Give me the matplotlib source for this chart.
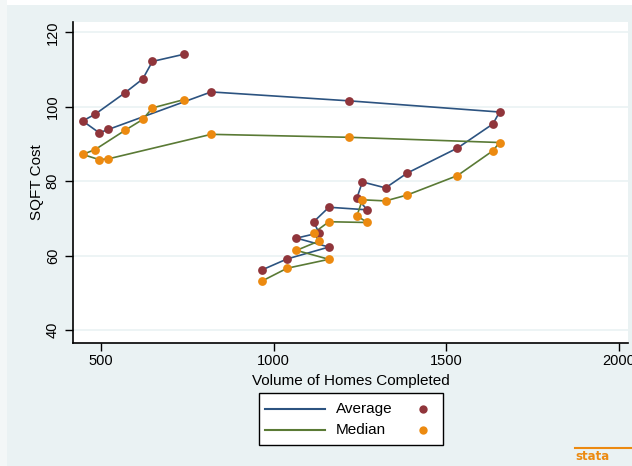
import matplotlib
matplotlib.use("Agg")
from matplotlib import pyplot as plt
from matplotlib.lines import Line2D
from matplotlib.patches import Rectangle

plt.rcParams['font.family'] = ['Liberation Sans', 'DejaVu Sans']

# volume of homes completed (same x for both series), in plotting order
volume = [965, 1039, 1160, 1066, 1131, 1116, 1160, 1271, 1241, 1257, 1324, 1387,
          1532, 1635, 1654, 1219, 819, 521, 495, 447, 483, 570, 621, 649, 739]
avg_cost = [56.1, 59.1, 62.3, 64.7, 66.1, 69.1, 73.0, 72.3, 75.5, 79.8, 78.2, 82.2,
            88.9, 95.4, 98.6, 101.6, 104.0, 93.9, 93.0, 96.2, 98.0, 103.8, 107.5, 112.2, 114.1]
med_cost = [53.1, 56.6, 59.0, 61.4, 63.9, 66.1, 69.1, 68.9, 70.7, 75.0, 74.7, 76.3,
            81.5, 88.2, 90.4, 91.8, 92.6, 86.0, 85.8, 87.2, 88.5, 93.7, 96.6, 99.7, 101.9]

x_ticks = [500, 1000, 1500, 2000]
y_ticks = [40, 60, 80, 100, 120]
series_names = ["Average", "Median"]

bg = '#eaf2f3'
navy = '#2c5380'
green = '#5a7a35'
maroon = '#90353b'
orange = '#ec8a10'

W, H = 632, 466


def fx(px):
    return px / W


def fy(py):
    # pixel row from top -> figure fraction
    return 1 - py / H


fig = plt.figure(figsize=(6.32, 4.66), dpi=100)
fig.patch.set_facecolor(bg)
# thin white strips at top and left like the screenshot
fig.patches.append(Rectangle((0, fy(5)), 1, 5 / H, transform=fig.transFigure,
                             facecolor='white', edgecolor='none', zorder=0))
fig.patches.append(Rectangle((0, 0), fx(7), 1, transform=fig.transFigure,
                             facecolor='#f3f7f7', edgecolor='none', zorder=0))

ax = fig.add_axes([fx(73), fy(343), fx(628 - 73), (343 - 22) / H])
ax.set_facecolor('white')

ax.plot(volume, avg_cost, color=navy, lw=1.2, zorder=2)
ax.plot(volume, med_cost, color=green, lw=1.2, zorder=2)
ax.scatter(volume, avg_cost, s=40, color=maroon, zorder=3, linewidths=0)
ax.scatter(volume, med_cost, s=40, color=orange, zorder=3, linewidths=0)

ax.set_xlim(419, 2026)
ax.set_ylim(36.5, 122.8)
ax.set_xticks(x_ticks)
ax.set_yticks(y_ticks)
ax.tick_params(axis='both', labelsize=10.5, length=6, width=1, color='black')
ax.tick_params(axis='x', pad=2)
for lab in ax.get_yticklabels():
    lab.set_rotation(90)
    lab.set_va('center')
ax.grid(axis='y', color=bg, lw=1.2)
ax.set_axisbelow(True)

for s in ['top', 'right']:
    ax.spines[s].set_visible(False)
for s in ['left', 'bottom']:
    ax.spines[s].set_linewidth(1.2)

ax.set_xlabel("Volume of Homes Completed", fontsize=11, labelpad=4)
ax.set_ylabel("SQFT Cost", fontsize=11, labelpad=1)

# legend box drawn by hand (line key + label, dot key on the right)
fig.patches.append(Rectangle((fx(259), fy(445)), fx(443 - 259), (445 - 393) / H,
                             transform=fig.transFigure, facecolor='white',
                             edgecolor='black', lw=1.0, zorder=5))
rows = [409, 430]
for name, lc, mc, py in zip(series_names, [navy, green], [maroon, orange], rows):
    fig.lines.append(Line2D([fx(265), fx(325)], [fy(py), fy(py)], color=lc, lw=1.5,
                            transform=fig.transFigure, zorder=6))
    fig.text(fx(336), fy(py), name, fontsize=11, va='center', ha='left', zorder=6)
    fig.lines.append(Line2D([fx(423)], [fy(py)], ls='none', marker='o', ms=6,
                            color=mc, mec='none', transform=fig.transFigure,
                            zorder=6))

# stata logo
fig.lines.append(Line2D([fx(575), fx(632)], [fy(448), fy(448)], color=orange,
                        lw=1.5, transform=fig.transFigure))
fig.text(fx(575), fy(457), "stata", color=orange, fontsize=8.5, fontweight='bold',
         family='DejaVu Sans', ha='left', va='center')

fig.savefig("out.png", dpi=100, facecolor=fig.get_facecolor())
